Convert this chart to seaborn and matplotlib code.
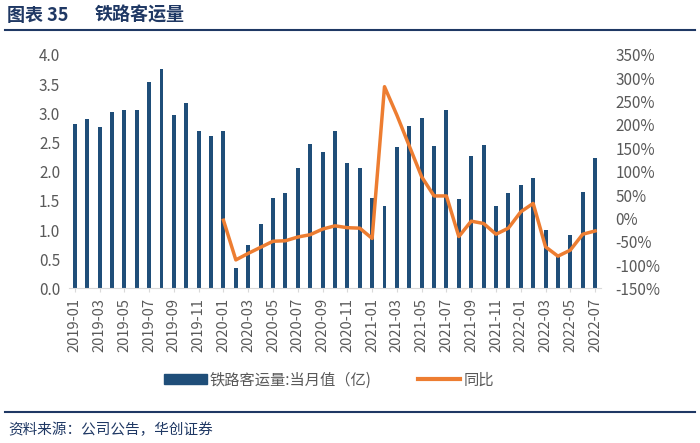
import pandas as pd
import numpy as np
import matplotlib.pyplot as plt
import seaborn as sns
from matplotlib.lines import Line2D
from matplotlib.patches import Patch

months = pd.date_range("2019-01-01", "2022-07-01", freq="MS").strftime("%Y-%m").tolist()

# 铁路客运量 当月值（亿人次）
passengers = [2.81, 2.90, 2.76, 3.03, 3.06, 3.05, 3.53, 3.76, 2.97, 3.17, 2.69, 2.61,
              2.70, 0.35, 0.74, 1.11, 1.55, 1.64, 2.06, 2.47, 2.33, 2.70, 2.14, 2.06,
              1.55, 1.42, 2.42, 2.79, 2.92, 2.44, 3.06, 1.53, 2.26, 2.46, 1.42, 1.63,
              1.77, 1.89, 1.00, 0.55, 0.91, 1.65, 2.24]

# 同比 (%), starts 2020-01
yoy = [-4, -89, -75, -62, -49, -48, -40, -35, -23, -16, -20, -21,
       -43, 282, 221, 155, 89, 48, 48, -39, -6, -11, -34, -21,
       14, 32, -61, -81, -68, -34, -27]

df = pd.DataFrame({"month": months, "value": passengers})
df_yoy = pd.DataFrame({"pos": np.arange(12, 12 + len(yoy)), "yoy": yoy})

plt.rcParams['font.family'] = ['Noto Sans CJK SC', 'DejaVu Sans']

bar_color = "#1F4E79"
line_color = "#ED7D31"
tick_color = "#595959"

fig = plt.figure(figsize=(7, 4.43), dpi=100)
ax = fig.add_axes([0.098, 0.349, 0.761, 0.527])

sns.barplot(data=df, x="month", y="value", color=bar_color, width=0.32,
            saturation=1, ax=ax)
ax.set_xlim(-0.5, len(months) - 0.5)
ax.set_ylim(0, 4)
ax.set_yticks(np.arange(0, 4.01, 0.5))
ax.set_yticklabels([f"{v:.1f}" for v in np.arange(0, 4.01, 0.5)])
ax.set_xticks(range(0, len(months), 2))
ax.set_xticklabels(months[::2], rotation=90)
ax.set_xlabel("")
ax.set_ylabel("")

ax2 = ax.twinx()
sns.lineplot(data=df_yoy, x="pos", y="yoy", color=line_color, linewidth=2.5, ax=ax2)
ax2.set_ylim(-150, 350)
ax2.set_yticks(range(-150, 351, 50))
ax2.set_yticklabels([f"{v}%" for v in range(-150, 351, 50)])
ax2.set_ylabel("")
ax2.set_xlabel("")
ax2.set_xlim(-0.5, len(months) - 0.5)

for a in (ax, ax2):
    for s in a.spines.values():
        s.set_visible(False)
    a.tick_params(axis="y", length=0, labelsize=11, colors=tick_color)
ax.spines["bottom"].set_visible(True)
ax.spines["bottom"].set_color("#D9D9D9")
ax.tick_params(axis="x", length=3, color="#D9D9D9", labelsize=10.5, labelcolor=tick_color, pad=4)
ax.tick_params(axis="y", pad=6)
ax2.tick_params(axis="y", pad=10)

handles = [Patch(color=bar_color), Line2D([0], [0], color=line_color, lw=3)]
fig.legend(handles, ["铁路客运量:当月值（亿)", "同比"], loc="center", bbox_to_anchor=(0.47, 0.142),
           ncol=2, frameon=False, fontsize=11, handlelength=2.8, handleheight=0.6,
           columnspacing=3, handletextpad=0.2, labelcolor=tick_color)

# header and footer
fig.text(0.010, 0.966, "图表 35", fontsize=13, fontweight="bold", color="#1F3864", va="center")
fig.text(0.135, 0.966, "铁路客运量", fontsize=13, fontweight="bold", color="#1F3864", va="center")
fig.add_artist(Line2D([0.007, 0.993], [0.932, 0.932], color="#1F3864", lw=1.5))
fig.add_artist(Line2D([0.007, 0.993], [0.071, 0.071], color="#1F3864", lw=1.5))
fig.text(0.012, 0.03, "资料来源：公司公告，华创证券", fontsize=10.5, color="#1F3864",
         style="italic", va="center")

fig.savefig("out.png", dpi=100)
